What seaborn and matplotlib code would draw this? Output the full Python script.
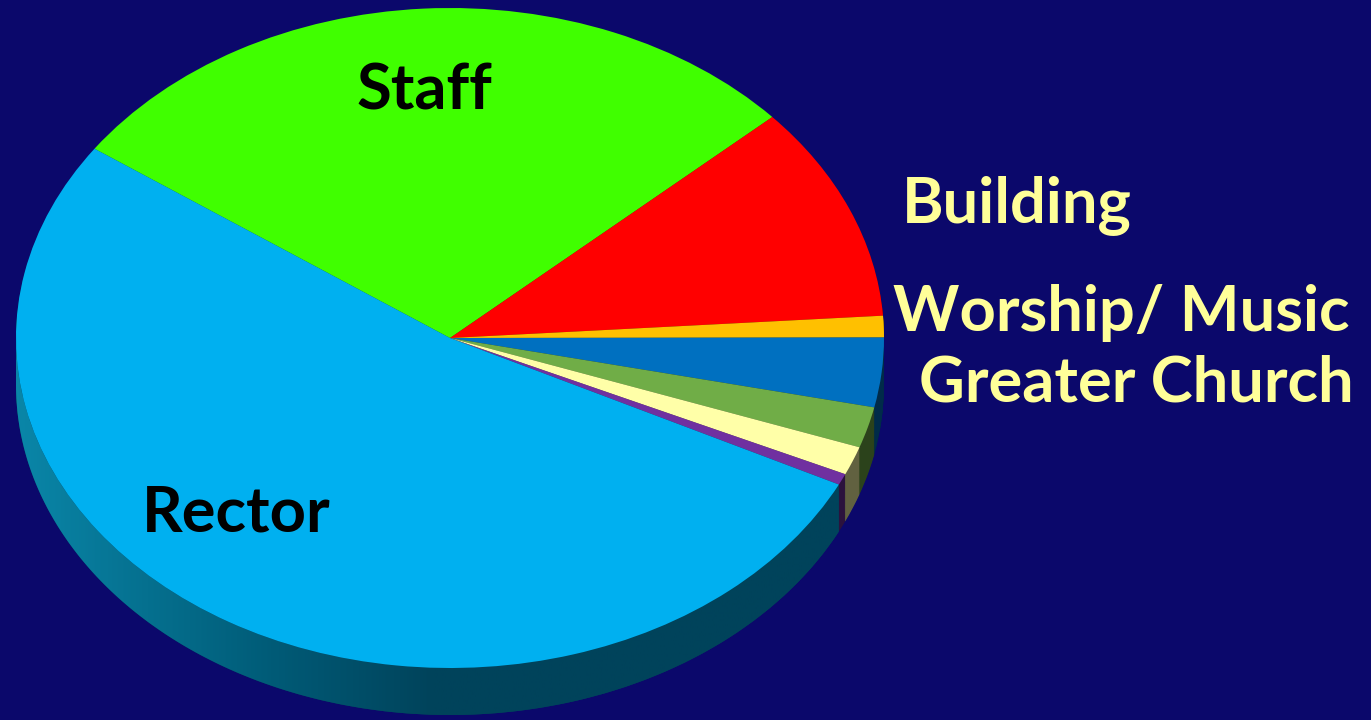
import numpy as np
import matplotlib
matplotlib.use("Agg")
import matplotlib.pyplot as plt
import matplotlib.colors as mcolors
from matplotlib.path import Path
from matplotlib.patches import PathPatch
import seaborn as sns

# ---------------- data ----------------
categories = ["Staff", "Building", "Worship/ Music", "Greater Church",
              "Outreach", "Education", "Fellowship", "Rector"]
shares = [28.6, 10.6, 1.05, 3.4, 2.0, 1.4, 0.55, 52.4]
display_labels = ["Staff", "Building", "Worship/ Music", "Greater Church", "", "", "", "Rector"]
slice_colors = ["#40FF00", "#FF0000", "#FFC000", "#0070C0",
                "#70AD47", "#FFFFA8", "#7030A0", "#00B0F0"]

BG = "#0B086B"
LABEL_YELLOW = "#FFFF99"

sns.set_style("white")
plt.rcParams["font.family"] = ["Lato", "DejaVu Sans"]

W, H = 1371, 720
fig = plt.figure(figsize=(W / 100, H / 100), dpi=100, facecolor=BG)
ax = fig.add_axes([0, 0, 1, 1])
ax.set_facecolor(BG)
ax.set_axis_off()

# ellipse geometry (pixels): centre (450, 338), radii 434 x 330, depth 47
cx, cy, rx, ry, depth_px = 450.0, 338.0, 434.0, 330.0, 47.0
depth = depth_px / ry


def set_limits():
    ax.set_xlim(-cx / rx, (W - cx) / rx)
    ax.set_ylim((cy - H) / ry, cy / ry)
    ax.set_aspect("auto")


start = 145.0

# side of the 3-D pie: stacked darker copies
side_colors = [mcolors.to_hex(np.array(mcolors.to_rgb(c)) * 0.38) for c in slice_colors]
side_colors[-1] = "#00435B"
n_layers = 48
for k in range(n_layers, 0, -1):
    off = depth * k / n_layers
    ax.pie(shares, colors=side_colors, startangle=start, counterclock=False,
           radius=1.0, center=(0, -off), frame=False,
           wedgeprops=dict(linewidth=0, antialiased=True))

# gradient overlay on the Rector part of the side band
rector_end = start - 360.0 * sum(shares[:-1]) / 100.0
theta = np.radians(np.linspace(180, 360 + rector_end, 200))
top = np.column_stack([np.cos(theta), np.sin(theta)])
bot = np.column_stack([np.cos(theta[::-1]), np.sin(theta[::-1]) - depth])
verts = np.vstack([top, bot, top[:1]])
band = PathPatch(Path(verts, closed=True), facecolor="none", edgecolor="none")
ax.add_patch(band)
grad_cmap = mcolors.LinearSegmentedColormap.from_list(
    "side", [(0.0, "#0A86A8"), (0.30, "#005A76"), (0.48, "#00435B"), (1.0, "#00435B")])
gx = np.linspace(0, 1, 400)[None, :]
im = ax.imshow(gx, cmap=grad_cmap, extent=(-1.0, 1.0, -1.0 - depth, 0.2),
               aspect="auto", zorder=1.5, interpolation="bilinear")
im.set_clip_path(band)

# top face
wedges, _ = ax.pie(shares, colors=slice_colors, startangle=start, counterclock=False,
                   radius=1.0, center=(0, 0), frame=False,
                   wedgeprops=dict(linewidth=0, antialiased=True))
for w in wedges:
    w.set_zorder(3)

set_limits()

# labels (pixel positions of baselines)
label_pos = {
    "Staff": (424, 110, "black"),
    "Rector": (236, 532, "black"),
    "Building": (1017, 222, LABEL_YELLOW),
    "Worship/ Music": (1121, 331, LABEL_YELLOW),
    "Greater Church": (1136, 402, LABEL_YELLOW),
}
for lab in display_labels:
    if not lab:
        continue
    px, py, col = label_pos[lab]
    fig.text(px / W, 1 - py / H, lab, ha="center", va="baseline",
             fontsize=45.5, fontweight="bold", color=col, zorder=5)

fig.savefig("out.png", dpi=100, facecolor=BG)
